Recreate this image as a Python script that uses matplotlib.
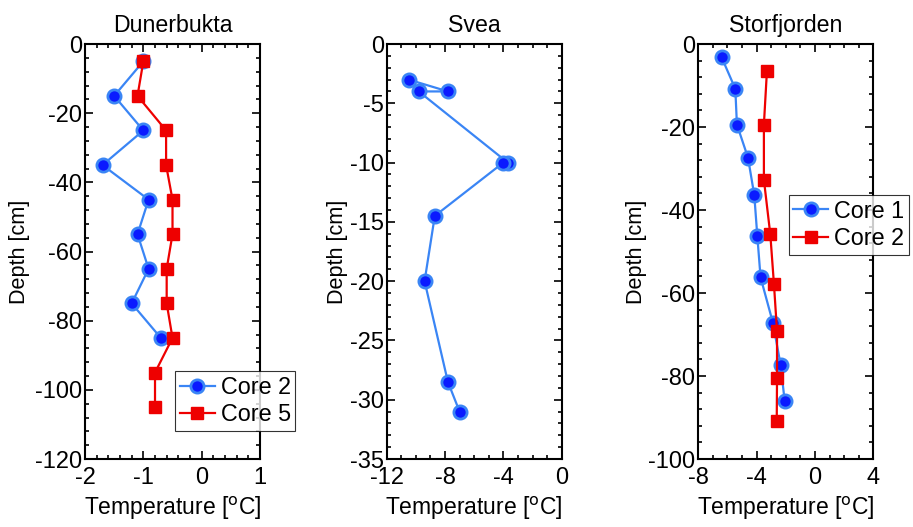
import matplotlib
matplotlib.use("Agg")
import matplotlib.pyplot as plt
from matplotlib.ticker import MultipleLocator

plt.rcParams['font.family'] = ['Liberation Sans', 'DejaVu Sans']
plt.rcParams['font.size'] = 15.6
plt.rcParams['axes.unicode_minus'] = False

# Dunerbukta
dun_core2_t = [-1.0, -1.5, -1.0, -1.7, -0.91, -1.1, -0.91, -1.2, -0.7]
dun_core2_d = [-5, -15, -25, -35, -45, -55, -65, -75, -85]
dun_core5_t = [-1.0, -1.1, -0.61, -0.61, -0.5, -0.5, -0.6, -0.6, -0.5, -0.8, -0.8]
dun_core5_d = [-5, -15, -25, -35, -45, -55, -65, -75, -85, -95, -105]

# Svea
svea_t = [-10.5, -7.8, -9.8, -3.7, -4.0, -8.7, -9.4, -7.8, -7.0]
svea_d = [-3, -4, -4, -10, -10, -14.5, -20, -28.5, -31]

# Storfjorden
sto_core1_t = [-6.4, -5.46, -5.35, -4.59, -4.16, -3.95, -3.73, -2.88, -2.35, -2.08]
sto_core1_d = [-3.2, -10.8, -19.4, -27.4, -36.4, -46.3, -56.2, -67.2, -77.4, -85.9]
sto_core2_t = [-3.29, -3.5, -3.5, -3.06, -2.81, -2.6, -2.6, -2.62]
sto_core2_d = [-6.4, -19.4, -32.7, -45.9, -57.9, -69.2, -80.5, -90.9]

BLUE_LINE = '#3a85f5'
BLUE_FACE = '#0a1aff'
RED = '#ee0000'

blue_kw = dict(color=BLUE_LINE, lw=1.6, marker='o', ms=9.5, mfc=BLUE_FACE,
               mec=BLUE_LINE, mew=2.0)
red_kw = dict(color=RED, lw=1.6, marker='s', ms=8, mfc=RED, mec=RED)

fig = plt.figure(figsize=(9.13, 5.27), dpi=100)
w, h, bottom = 0.1917, 0.7875, 0.129
ax1 = fig.add_axes([0.0931, bottom, w, h])
ax2 = fig.add_axes([0.4235, bottom, w, h])
ax3 = fig.add_axes([0.7648, bottom, w, h])

ax1.plot(dun_core2_t, dun_core2_d, label='Core 2', **blue_kw)
ax1.plot(dun_core5_t, dun_core5_d, label='Core 5', **red_kw)
ax1.set_xlim(-2, 1)
ax1.set_ylim(-120, 0)
ax1.xaxis.set_major_locator(MultipleLocator(1))
ax1.xaxis.set_minor_locator(MultipleLocator(0.2))
ax1.yaxis.set_major_locator(MultipleLocator(20))
ax1.yaxis.set_minor_locator(MultipleLocator(4))
ax1.set_title('Dunerbukta', pad=9, fontsize=16.7)

ax2.plot(svea_t, svea_d, **blue_kw)
ax2.set_xlim(-12, 0)
ax2.set_ylim(-35, 0)
ax2.xaxis.set_major_locator(MultipleLocator(4))
ax2.xaxis.set_minor_locator(MultipleLocator(1))
ax2.yaxis.set_major_locator(MultipleLocator(5))
ax2.yaxis.set_minor_locator(MultipleLocator(1))
ax2.set_title('Svea', pad=9, fontsize=16.7)

ax3.plot(sto_core1_t, sto_core1_d, label='Core 1', **blue_kw)
ax3.plot(sto_core2_t, sto_core2_d, label='Core 2', **red_kw)
ax3.set_xlim(-8, 4)
ax3.set_ylim(-100, 0)
ax3.xaxis.set_major_locator(MultipleLocator(4))
ax3.xaxis.set_minor_locator(MultipleLocator(1))
ax3.yaxis.set_major_locator(MultipleLocator(20))
ax3.yaxis.set_minor_locator(MultipleLocator(4))
ax3.set_title('Storfjorden', pad=9, fontsize=16.7)

for ax, ypad in ((ax1, 3.8), (ax2, 1.2), (ax3, 0.8)):
    ax.set_xlabel('Temperature [$^{\\mathrm{o}}$C]', labelpad=4, fontsize=16.5)
    ax.set_ylabel('Depth [cm]', labelpad=ypad)
    ax.tick_params(which='both', direction='in', top=True, right=True,
                   width=1.2, labelsize=17)
    ax.tick_params(axis='x', which='major', pad=6)
    ax.tick_params(axis='y', which='major', pad=2)
    ax.tick_params(which='major', length=6)
    ax.tick_params(which='minor', length=3)
    for sp in ax.spines.values():
        sp.set_linewidth(1.5)

leg_kw = dict(frameon=True, fancybox=False, edgecolor='black', fontsize=16.8,
              handlelength=1.5, borderpad=0.2, labelspacing=0.2,
              handletextpad=0.25, borderaxespad=0)
l1 = ax1.legend(loc='upper left', bbox_to_anchor=(0.1917, 0.296),
                bbox_transform=fig.transFigure, **leg_kw)
l3 = ax3.legend(loc='upper left', bbox_to_anchor=(0.864, 0.630),
                bbox_transform=fig.transFigure, **leg_kw)
for l in (l1, l3):
    l.get_frame().set_linewidth(0.8)

fig.savefig('out.png', dpi=100)
